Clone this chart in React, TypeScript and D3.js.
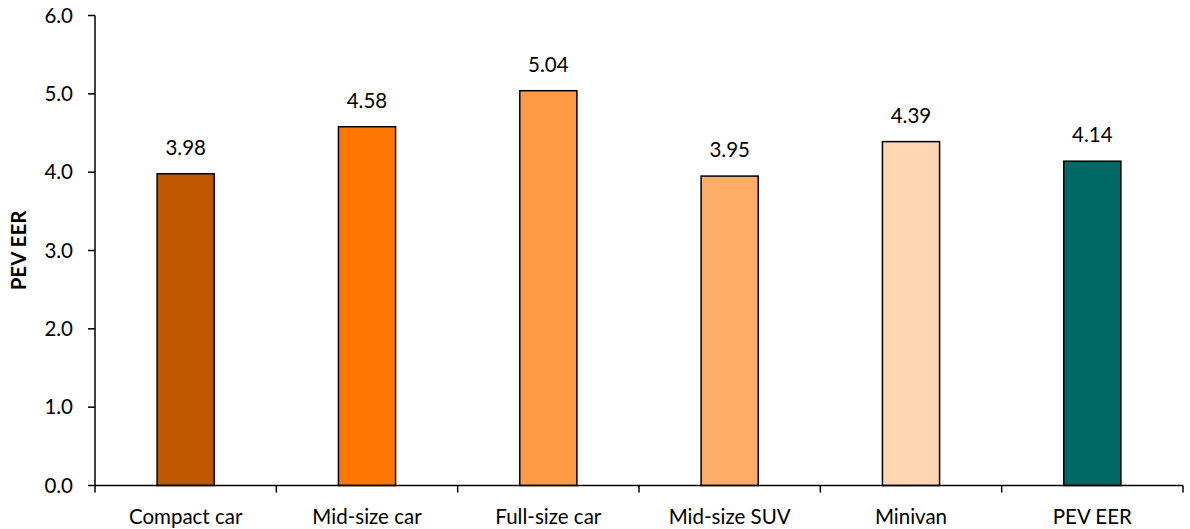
import React from "react";
import * as d3 from "d3";

const categories = ["Compact car", "Mid-size car", "Full-size car", "Mid-size SUV", "Minivan", "PEV EER"];
const values = [3.98, 4.58, 5.04, 3.95, 4.39, 4.14];
const colors = ["#BF5700", "#FF7700", "#FF9B45", "#FFAC69", "#FFD5B2", "#006966"];
const yTicks = [0, 1, 2, 3, 4, 5, 6];

const W = 1190;
const H = 529;
const margin = { left: 95, right: 7, top: 15.5, bottom: 43.5 };
const FONT = "Lato, 'Open Sans', sans-serif";
const FS = 20.5;

export default function App() {
  const x = d3
    .scaleBand<string>()
    .domain(categories)
    .range([margin.left, W - margin.right])
    .paddingInner(0.685)
    .paddingOuter(0.3425);
  const band = d3.scaleBand<string>().domain(categories).range([margin.left, W - margin.right]);
  const y = d3.scaleLinear().domain([0, 6]).range([H - margin.bottom, margin.top]);
  const y0 = y(0);

  return (
    <svg width={W} height={H} style={{ position: "absolute", left: 0, top: 0, background: "#fff" }}>
      {/* bars */}
      {categories.map((c, i) => (
        <g key={c}>
          <rect
            x={x(c)!}
            y={y(values[i])}
            width={x.bandwidth()}
            height={y0 - y(values[i])}
            fill={colors[i]}
            stroke="#000"
            strokeWidth={1.5}
          />
          <text
            x={x(c)! + x.bandwidth() / 2}
            y={y(values[i]) - 19}
            textAnchor="middle"
            fontFamily={FONT}
            fontSize={FS}
            fill="#000"
          >
            {values[i].toFixed(2)}
          </text>
        </g>
      ))}
      {/* y axis */}
      <line x1={margin.left} x2={margin.left} y1={margin.top} y2={y0} stroke="#000" strokeWidth={1.5} />
      {yTicks.map((t) => (
        <g key={t}>
          <line x1={margin.left - 7} x2={margin.left} y1={y(t)} y2={y(t)} stroke="#000" strokeWidth={1.5} />
          <text
            x={margin.left - 22}
            y={y(t)}
            dy="0.35em"
            textAnchor="end"
            fontFamily={FONT}
            fontSize={FS}
            fill="#000"
          >
            {t.toFixed(1)}
          </text>
        </g>
      ))}
      {/* x axis */}
      <line x1={margin.left} x2={W - margin.right} y1={y0} y2={y0} stroke="#000" strokeWidth={1.5} />
      {categories.map((c) => (
        <line key={"t" + c} x1={band(c)!} x2={band(c)!} y1={y0} y2={y0 + 7} stroke="#000" strokeWidth={1.5} />
      ))}
      <line x1={W - margin.right} x2={W - margin.right} y1={y0} y2={y0 + 7} stroke="#000" strokeWidth={1.5} />
      {categories.map((c) => (
        <text
          key={"l" + c}
          x={band(c)! + band.bandwidth() / 2}
          y={y0 + 38}
          textAnchor="middle"
          fontFamily={FONT}
          fontSize={FS}
          fill="#000"
        >
          {c}
        </text>
      ))}
      <text
        transform={`translate(26, ${(margin.top + y0) / 2}) rotate(-90)`}
        textAnchor="middle"
        fontFamily={FONT}
        fontSize={FS}
        fontWeight="bold"
        fill="#000"
      >
        PEV EER
      </text>
    </svg>
  );
}
